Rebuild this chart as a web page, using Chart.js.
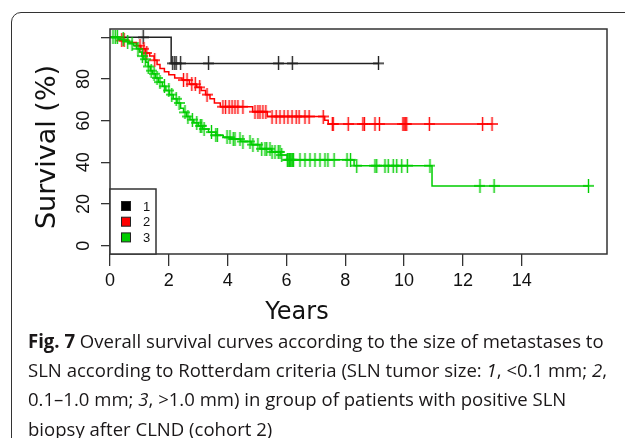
<!DOCTYPE html>
<html><head><meta charset="utf-8">
<script src="https://cdn.jsdelivr.net/npm/chart.js@4.4.1/dist/chart.umd.min.js"></script>
<style>
html,body{margin:0;padding:0;background:#fff;width:625px;height:438px;overflow:hidden;}
#frame{position:absolute;left:11px;top:12px;width:700px;height:600px;border:1.5px solid #333;border-radius:10px;box-sizing:border-box;}
#c{position:absolute;left:0;top:0;}
#cap{position:absolute;left:28px;top:327px;font-family:'Open Sans',sans-serif;font-size:19px;line-height:29.2px;color:#1a1718;white-space:nowrap;transform-origin:0 0;}
#cap span{display:block;}
</style></head><body>
<div id="frame"></div>
<canvas id="c" width="625" height="438"></canvas>
<div id="cap"><span id="l1"><b>Fig. 7</b> Overall survival curves according to the size of metastases to</span><span>SLN according to Rotterdam criteria (SLN tumor size: <i>1</i>, &lt;0.1 mm; <i>2</i>,</span><span>0.1–1.0 mm; <i>3</i>, &gt;1.0 mm) in group of patients with positive SLN</span><span>biopsy after CLND (cohort 2)</span></div>
<script>
const yearTicks = [0, 2, 4, 6, 8, 10, 12, 14];
const survTicks = [0, 20, 40, 60, 80, 100];
const survTickLabels = ['0', '20', '40', '60', '80', ''];
const groupNames = ['1', '2', '3'];

const g1Time = [0, 2.08];
const g1Surv = [100, 87.5];
const g1Cens = [1.13, 2.13, 2.2, 2.25, 2.4, 3.35, 5.73, 6.2, 9.13];

const g2Time = [0, 0.35, 0.6, 0.9, 1.05, 1.2, 1.35, 1.5, 1.6, 1.7, 1.85, 2.0, 2.2, 2.45, 2.7, 2.95, 3.1, 3.25, 3.4, 3.55, 3.75, 4.85, 5.35, 7.3, 7.42];
const g2Surv = [100, 98.5, 97.5, 96, 94.5, 92.5, 91, 89, 87, 85, 83.5, 82, 80.5, 79.5, 77.5, 76, 74.5, 72.5, 70.5, 68.5, 66.7, 64.3, 62, 60.2, 58.4];
const g2Cens = [0.4, 0.48, 1.02, 1.15, 1.25, 1.52, 2.5, 2.62, 2.78, 2.9, 3.05, 3.3, 3.84, 3.93, 4.05, 4.15, 4.25, 4.35, 4.52, 4.93, 5.03, 5.1, 5.2, 5.3, 5.51, 5.65, 5.78, 5.92, 6.05, 6.19, 6.33, 6.43, 6.63, 6.77, 7.25, 7.56, 7.59, 8.1, 8.6, 8.65, 9.01, 9.16, 9.96, 10.0, 10.04, 10.09, 10.86, 12.67, 12.99];

const g3Time = [0, 0.3, 0.5, 0.65, 0.8, 0.9, 1.0, 1.08, 1.15, 1.22, 1.3, 1.37, 1.45, 1.55, 1.65, 1.78, 1.9, 2.02, 2.15, 2.28, 2.4, 2.5, 2.6, 2.72, 2.85, 3.0, 3.15, 3.35, 3.6, 3.85, 4.1, 4.45, 4.8, 5.1, 5.5, 5.8, 6.02, 8.3, 10.95];
const g3Surv = [100, 99, 98, 97, 96, 94.5, 93, 91, 89.5, 88, 86, 84, 82.5, 80.5, 78.5, 76.5, 74.5, 72.5, 70.5, 68.5, 66, 64, 62, 60.5, 59, 57.5, 56, 54.5, 53, 52, 51.2, 50, 48.5, 46.5, 45, 43.5, 41.2, 38.4, 28.7];
const g3Cens = [0.1, 0.18, 0.25, 0.45, 0.6, 0.75, 0.95, 1.1, 1.2, 1.3, 1.4, 1.5, 1.6, 1.7, 1.85, 2.0, 2.1, 2.25, 2.35, 2.55, 2.65, 2.8, 2.95, 3.07, 3.12, 3.2, 3.45, 3.6, 3.65, 3.98, 4.08, 4.19, 4.25, 4.42, 4.52, 4.76, 4.86, 5.03, 5.16, 5.27, 5.33, 5.44, 5.51, 5.61, 5.72, 5.78, 5.84, 6.03, 6.06, 6.1, 6.13, 6.16, 6.2, 6.24, 6.46, 6.63, 6.8, 6.97, 7.14, 7.31, 7.41, 7.62, 8.06, 8.18, 8.39, 9.01, 9.07, 9.35, 9.46, 9.63, 9.75, 9.92, 10.11, 10.88, 12.58, 13.06, 16.27];

const colors = ['#222222', '#ff0000', '#00cd00'];

function kmLine(times, surv, cens) {
  const pts = times.map((t, i) => ({x: t, y: surv[i]}));
  const last = Math.max(...cens);
  if (last > times[times.length - 1]) pts.push({x: last, y: surv[surv.length - 1]});
  return pts;
}
function survAt(times, surv, t) {
  let s = surv[0];
  for (let i = 0; i < times.length; i++) if (times[i] <= t) s = surv[i];
  return s;
}
function censPts(times, surv, cens) {
  return cens.map(t => ({x: t, y: survAt(times, surv, t)}));
}
function plusImg(color) {
  const c = document.createElement('canvas');
  c.width = 11; c.height = 14;
  const g = c.getContext('2d');
  g.strokeStyle = color; g.lineWidth = 1.4;
  g.beginPath();
  g.moveTo(5.5, 0); g.lineTo(5.5, 14);
  g.moveTo(0, 7); g.lineTo(11, 7);
  g.stroke();
  return c;
}

const groups = [[g1Time, g1Surv, g1Cens], [g2Time, g2Surv, g2Cens], [g3Time, g3Surv, g3Cens]];
const datasets = [];
groups.forEach((g, i) => {
  datasets.push({
    type: 'line', label: groupNames[i], data: kmLine(g[0], g[1], g[2]),
    stepped: 'before', borderColor: colors[i], borderWidth: 1.5, pointRadius: 0,
    fill: false, order: 6 - 2 * i
  });
  datasets.push({
    type: 'scatter', label: groupNames[i] + ' censored', data: censPts(g[0], g[1], g[2]),
    pointStyle: plusImg(colors[i]), pointRadius: 5, showLine: false, order: 5 - 2 * i
  });
});

const decor = {
  id: 'decor',
  afterDraw(chart) {
    const ctx = chart.ctx, ca = chart.chartArea, ys = chart.scales.y;
    ctx.save();
    ctx.strokeStyle = '#333'; ctx.lineWidth = 1.5;
    ctx.strokeRect(ca.left, ca.top, ca.right - ca.left, ca.bottom - ca.top);
    // y tick labels (rotated)
    ctx.fillStyle = '#111';
    ctx.font = "18px 'Liberation Sans'";
    ctx.textAlign = 'center'; ctx.textBaseline = 'middle';
    survTicks.forEach((v, i) => {
      const lab = survTickLabels[i];
      if (!lab) return;
      ctx.save();
      ctx.translate(ca.left - 26, ys.getPixelForValue(v));
      ctx.rotate(-Math.PI / 2);
      ctx.fillText(lab, 0, 0);
      ctx.restore();
    });
    // axis titles
    ctx.font = "27px 'DejaVu Sans'";
    ctx.save();
    ctx.translate(48, 147);
    ctx.rotate(-Math.PI / 2);
    ctx.fillText('Survival (%)', 0, 0);
    ctx.restore();
    ctx.font = "24px 'DejaVu Sans'";
    ctx.fillText('Years', ca.left + 187, ca.bottom + 59);
    // legend
    const lx = ca.left, ly = ca.bottom - 65, lw = 46, lh = 65;
    ctx.fillStyle = '#fff';
    ctx.fillRect(lx, ly, lw, lh);
    ctx.strokeStyle = '#333'; ctx.lineWidth = 1.5;
    ctx.strokeRect(lx, ly, lw, lh);
    ctx.font = "13px 'Liberation Sans'";
    ctx.textAlign = 'left';
    groupNames.forEach((n, i) => {
      const cy = ly + 17 + i * 15.7;
      ctx.fillStyle = colors[i] === '#222222' ? '#000' : colors[i];
      ctx.fillRect(lx + 11.5, cy - 4.5, 9, 9);
      ctx.strokeStyle = '#222'; ctx.lineWidth = 1;
      ctx.strokeRect(lx + 11.5, cy - 4.5, 9, 9);
      ctx.fillStyle = '#111';
      ctx.fillText(n, lx + 33, cy + 1);
    });
    ctx.restore();
  }
};

new Chart(document.getElementById('c'), {
  data: {datasets},
  options: {
    responsive: false, animation: false, devicePixelRatio: 1,
    layout: {padding: {top: 29, right: 18, left: 0, bottom: 0}},
    plugins: {legend: {display: false}, tooltip: {enabled: false}},
    scales: {
      x: {
        type: 'linear', min: 0, max: 16.9,
        afterBuildTicks: a => { a.ticks = yearTicks.map(v => ({value: v})); },
        afterFit: s => { s.height = 184; },
        grid: {drawOnChartArea: false, drawTicks: true, tickLength: 12, color: '#333', lineWidth: 1.3},
        border: {display: false},
        ticks: {font: {family: 'Liberation Sans', size: 18}, color: '#111', padding: 4, maxRotation: 0, autoSkip: false}
      },
      y: {
        type: 'linear', min: -4, max: 104,
        afterBuildTicks: a => { a.ticks = survTicks.map(v => ({value: v})); },
        afterFit: s => { s.width = 110; },
        grid: {drawOnChartArea: false, drawTicks: true, tickLength: 9, color: '#333', lineWidth: 1.3},
        border: {display: false},
        ticks: {display: false}
      }
    }
  },
  plugins: [decor]
});

const cap = document.getElementById('cap');
const w1 = document.getElementById('l1').getBoundingClientRect().width;
cap.style.transform = 'scaleX(' + (579 / w1) + ')';
</script>
</body></html>
